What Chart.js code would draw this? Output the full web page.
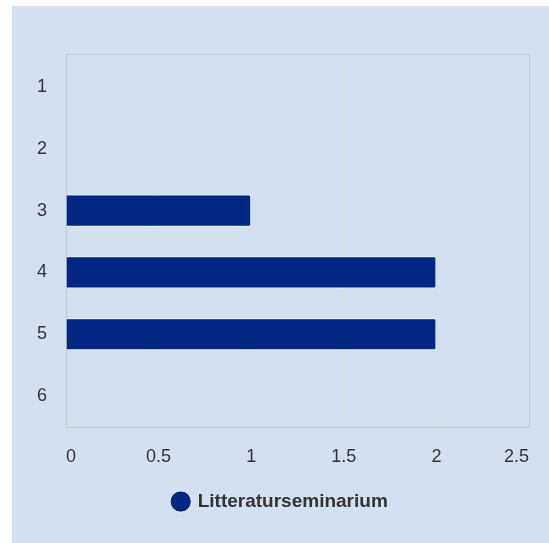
<!DOCTYPE html>
<html>
<head>
<meta charset="utf-8">
<script src="https://cdn.jsdelivr.net/npm/chart.js@4/dist/chart.umd.min.js"></script>
<style>
  html, body { margin: 0; padding: 0; background: #ffffff; }
  #panel { position: absolute; left: 12px; top: 6px; width: 537px; height: 537px; background: #d3e0ef; }
  canvas { display: block; }
</style>
</head>
<body>
<div id="panel"><canvas id="c" width="537" height="537"></canvas></div>
<script>
const categories = ['1', '2', '3', '4', '5', '6'];
const seriesName = 'Litteraturseminarium';
const seriesValues = [0, 0, 1, 2, 2, 0];
const xTickValues = [0, 0.5, 1, 1.5, 2, 2.5];

const FONT = "'Liberation Sans', Arial, Helvetica, sans-serif";

const boxPlugin = {
  id: 'plotBox',
  beforeDatasetsDraw(chart) {
    const a = chart.chartArea;
    const ctx = chart.ctx;
    const top = Math.round(a.top) - 2;
    ctx.save();
    ctx.strokeStyle = '#c9c9c9';
    ctx.lineWidth = 1;
    ctx.strokeRect(Math.round(a.left) + 0.5, top + 0.5,
                   Math.round(a.right - a.left), Math.round(a.bottom) - top);
    ctx.restore();
  }
};

new Chart(document.getElementById('c'), {
  type: 'bar',
  data: {
    labels: categories,
    datasets: [{
      label: seriesName,
      data: seriesValues,
      backgroundColor: '#012683',
      borderColor: 'rgba(255,255,255,0.85)',
      borderWidth: 1,
      borderRadius: 2,
      borderSkipped: 'start',
      barPercentage: 0.65,
      categoryPercentage: 0.8
    }]
  },
  options: {
    indexAxis: 'y',
    responsive: false,
    animation: false,
    devicePixelRatio: 1,
    layout: { padding: { left: 20, top: 50, right: 20, bottom: 22 } },
    scales: {
      x: {
        min: 0,
        max: 2.5,
        afterBuildTicks(scale) { scale.ticks = xTickValues.map(v => ({ value: v })); },
        afterFit(scale) { scale.height = 55; },
        grid: { color: '#dcdcdc', drawTicks: false },
        border: { display: false },
        ticks: {
          align: 'inner',
          padding: 19,
          color: '#333333',
          font: { family: FONT, size: 18 },
          callback: v => String(v)
        }
      },
      y: {
        afterFit(scale) { scale.width = 34; },
        grid: { display: false, drawTicks: false },
        border: { display: false },
        ticks: {
          padding: 19,
          color: '#333333',
          font: { family: FONT, size: 18 }
        }
      }
    },
    plugins: {
      tooltip: { enabled: false },
      legend: {
        position: 'bottom',
        labels: {
          usePointStyle: true,
          pointStyle: 'circle',
          boxWidth: 15,
          boxHeight: 15,
          padding: 10,
          color: '#333333',
          font: { family: FONT, size: 19, weight: 'bold' }
        }
      }
    }
  },
  plugins: [boxPlugin]
});
</script>
</body>
</html>
